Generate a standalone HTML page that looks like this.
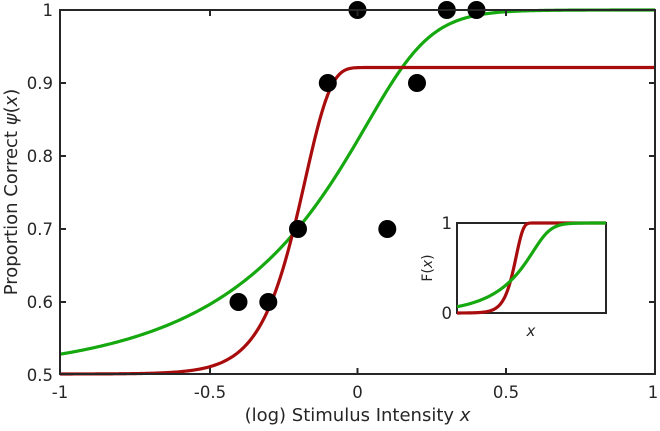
<!DOCTYPE html>
<html><head><meta charset="utf-8"><style>
html,body{margin:0;padding:0;background:#fff;}
svg{display:block;font-family:"DejaVu Sans","Liberation Sans",sans-serif;}
</style></head><body>
<svg id="s" width="660" height="431" viewBox="0 0 660 431" xmlns="http://www.w3.org/2000/svg">
<rect width="660" height="431" fill="#fff"/>
<g id="curves"></g>
<g fill="#000">
<circle cx="238.5" cy="302" r="9"/><circle cx="268.3" cy="302" r="9"/>
<circle cx="298" cy="229" r="9"/><circle cx="327.8" cy="83" r="9"/>
<circle cx="357.5" cy="10" r="9"/><circle cx="387.3" cy="229" r="9"/>
<circle cx="417" cy="83" r="9"/><circle cx="446.8" cy="10" r="9"/>
<circle cx="476.5" cy="10" r="9"/>
</g>
<rect x="457" y="223" width="149" height="90" fill="#fff" stroke="#262626" stroke-width="2"/>
<g id="inset"></g>
<rect x="60" y="10" width="595" height="364" fill="none" stroke="#262626" stroke-width="2"/>
<g stroke="#262626" stroke-width="2">
<line x1="210" y1="374" x2="210" y2="368"/><line x1="357.5" y1="374" x2="357.5" y2="368"/><line x1="506" y1="374" x2="506" y2="368"/>
<line x1="210" y1="10" x2="210" y2="16"/><line x1="357.5" y1="10" x2="357.5" y2="16"/><line x1="506" y1="10" x2="506" y2="16"/>
<line x1="60" y1="83" x2="66" y2="83"/><line x1="60" y1="156" x2="66" y2="156"/><line x1="60" y1="229" x2="66" y2="229"/><line x1="60" y1="302" x2="66" y2="302"/>
<line x1="655" y1="83" x2="649" y2="83"/><line x1="655" y1="156" x2="649" y2="156"/><line x1="655" y1="229" x2="649" y2="229"/><line x1="655" y1="302" x2="649" y2="302"/>
</g>
<g font-size="16.5" fill="#262626" text-anchor="middle">
<text x="60" y="398">-1</text><text x="210" y="398">-0.5</text><text x="357.5" y="398">0</text><text x="506" y="398">0.5</text><text x="653" y="398">1</text>
<text x="357.5" y="421" font-size="18">(log) Stimulus Intensity <tspan font-style="italic">x</tspan></text>
</g>
<g font-size="16.5" fill="#262626" text-anchor="end">
<text x="53" y="16">1</text><text x="53" y="89">0.9</text><text x="53" y="162">0.8</text><text x="53" y="235">0.7</text><text x="53" y="308">0.6</text><text x="53" y="381">0.5</text>
<text x="452" y="229">1</text><text x="452" y="319">0</text>
</g>
<text x="531" y="336" font-size="15" font-style="italic" fill="#262626" text-anchor="middle">x</text>
<text transform="translate(432,268) rotate(-90)" font-size="14" fill="#262626" text-anchor="middle">F(<tspan font-style="italic">x</tspan>)</text>
<text transform="translate(17,192) rotate(-90)" font-size="18" fill="#262626" text-anchor="middle">Proportion Correct <tspan font-style="italic">ψ</tspan>(<tspan font-style="italic">x</tspan>)</text>
</svg>
<script>
(function(){
var NS="http://www.w3.org/2000/svg";
function G(x,a,b){return 1-Math.exp(-Math.exp((x-a)/b));}
function red(x){return G(x,-0.176,0.086);}
function green(x){var z=(x-0.165)/0.088;return Math.pow(1+Math.exp(-z),-0.22);}
function mk(par,d,c){var p=document.createElementNS(NS,"path");p.setAttribute("d",d);p.setAttribute("fill","none");p.setAttribute("stroke",c);p.setAttribute("stroke-width","3.2");p.setAttribute("stroke-linejoin","round");document.getElementById(par).appendChild(p);}
function main(f,g,h){var d="";for(var i=0;i<=400;i++){var x=-1+2*i/400;var y=g+h*f(x);var px=60+(x+1)*297.5,py=374-(y-0.5)*728;d+=(i?"L":"M")+px.toFixed(2)+" "+py.toFixed(2);}return d;}
mk("curves",main(green,0.5,0.5),"#16a80f");
mk("curves",main(red,0.5,0.421),"#a80c0c");
function ins(f){var d="";for(var i=0;i<=200;i++){var x=-0.9+1.82*i/200;var px=457+149*i/200,py=313-90*f(x);d+=(i?"L":"M")+px.toFixed(2)+" "+py.toFixed(2);}return d;}
mk("inset",ins(red),"#a80c0c");
mk("inset",ins(green),"#16a80f");
})();
</script>
</body></html>
